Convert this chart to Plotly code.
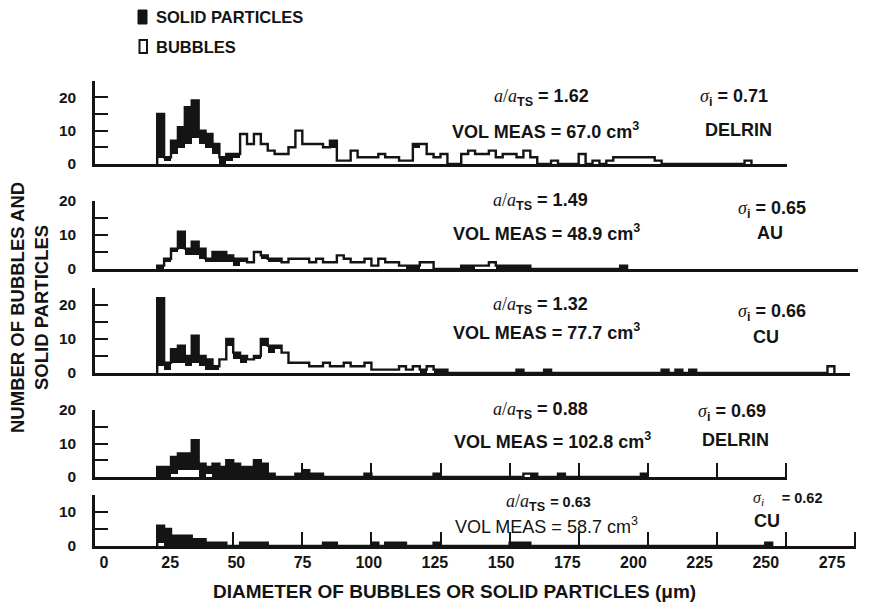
import plotly.graph_objects as go

# ---------------- data ----------------
# Histogram bins of diameter (micrometres): first bin starts at 22.5 um, bins 2.5 um wide
FIRST_BIN_UM = 22.5
BIN_WIDTH_UM = 2.5

# Panel 1: a/aTS = 1.62, DELRIN
bubbles_1 = [2, 1, 3, 5, 6, 8, 6, 5, 3, 0,
             1, 2, 9, 6, 9, 6, 4, 3, 3, 5,
             10, 6, 6, 6, 5, 5, 1, 1, 4, 2,
             2, 2, 3, 2, 2, 1, 1, 5, 6, 3,
             2, 3, 0, 0, 3, 4, 3, 3, 4, 2,
             3, 3, 2, 4, 2, 0, 0, 1, 0, 0,
             0, 3, 0, 1, 0, 1, 2, 2, 2, 2,
             2, 2, 1, 0, 0, 0, 0, 0, 0, 0,
             0, 0, 0, 0, 0, 1]
solids_1 = [13, 1, 4, 6, 11, 11, 4, 4, 3, 2,
            2, 1, 0, 0, 0, 0, 0, 0, 0, 0,
            0, 0, 0, 0, 0, 2, 0, 0, 0, 0,
            0, 0, 0, 0, 0, 0, 0, 1]

# Panel 2: a/aTS = 1.49, AU
bubbles_2 = [0, 2, 5, 6, 4, 4, 3, 2, 2, 2,
             2, 1, 2, 2, 5, 3, 2, 2, 2, 3,
             3, 3, 2, 3, 2, 2, 4, 3, 2, 2,
             3, 1, 3, 2, 2, 1, 0, 0, 2, 2,
             0, 0, 0, 0, 0, 0, 1, 1, 2]
solids_2 = [1, 1, 1, 5, 2, 4, 3, 1, 3, 3,
            2, 2, 1, 0, 0, 1, 1, 1, 0, 0,
            0, 0, 0, 0, 0, 0, 0, 0, 0, 0,
            0, 0, 0, 0, 0, 0, 1, 1, 0, 0,
            0, 0, 0, 0, 1, 1, 0, 0, 0, 1,
            1, 1, 1, 1, 0, 0, 0, 0, 0, 0,
            0, 0, 0, 0, 0, 0, 0, 1]

# Panel 3: a/aTS = 1.32, CU
bubbles_3 = [2, 1, 3, 3, 2, 3, 2, 1, 1, 4,
             8, 4, 3, 4, 4, 8, 6, 7, 6, 3,
             3, 3, 2, 2, 3, 2, 2, 3, 2, 2,
             3, 1, 1, 1, 1, 2, 1, 2, 0, 2,
             0, 0, 0, 0, 0, 0, 0, 0, 0, 0,
             0, 0, 0, 0, 0, 0, 0, 0, 0, 0,
             0, 0, 0, 0, 0, 0, 0, 0, 0, 0,
             0, 0, 0, 0, 0, 0, 0, 0, 0, 0,
             0, 0, 0, 0, 0, 0, 0, 0, 0, 0,
             0, 0, 0, 0, 0, 0, 0, 2]
solids_3 = [20, 2, 4, 5, 3, 8, 3, 3, 1, 0,
            2, 2, 2, 0, 1, 2, 2, 1, 0, 0,
            0, 0, 0, 0, 0, 0, 0, 0, 0, 0,
            0, 0, 0, 0, 0, 0, 0, 0, 1, 0,
            1, 1, 0, 0, 0, 0, 0, 0, 0, 0,
            0, 0, 1, 0, 0, 0, 1, 0, 0, 0,
            0, 0, 0, 0, 0, 0, 0, 0, 0, 0,
            0, 0, 0, 1, 0, 1, 0, 1]

# Panel 4: a/aTS = 0.88, DELRIN
bubbles_4 = [0, 0, 1, 2, 2, 2, 0, 1, 0, 0,
             0, 0, 0, 0, 0, 0, 0, 0, 0, 0,
             0, 0, 0, 0, 0, 0, 0, 0, 0, 0,
             0, 0, 0, 0, 0, 0, 0, 0, 0, 0,
             0, 0, 0, 0, 0, 0, 0, 0, 0, 0,
             0, 0, 0, 1]
solids_4 = [3, 3, 5, 5, 5, 9, 4, 2, 4, 3,
            5, 4, 3, 3, 5, 4, 1, 0, 0, 0,
            1, 2, 1, 1, 0, 0, 0, 0, 0, 0,
            1, 0, 0, 0, 0, 0, 0, 0, 0, 0,
            1, 0, 0, 0, 0, 0, 0, 0, 0, 0,
            0, 0, 0, 0, 1, 0, 0, 0, 1, 0,
            0, 0, 0, 0, 0, 0, 0, 0, 0, 0,
            1]

# Panel 5: a/aTS = 0.63, CU
bubbles_5 = [1]
solids_5 = [5, 5, 3, 3, 3, 2, 2, 1, 1, 1,
            0, 0, 1, 1, 1, 1, 0, 0, 0, 0,
            0, 0, 0, 0, 1, 1, 0, 0, 0, 0,
            0, 1, 0, 1, 1, 1, 0, 0, 0, 0,
            1, 0, 0, 0, 0, 0, 0, 0, 0, 0,
            0, 1, 1, 1, 0, 0, 0, 0, 0, 0,
            0, 0, 0, 0, 0, 0, 0, 0, 0, 0,
            0, 0, 0, 0, 0, 0, 0, 0, 0, 0,
            0, 0, 0, 0, 0, 0, 0, 0, 1]

size_ratio = ["1.62", "1.49", "1.32", "0.88", "0.63"]
vol_meas = ["67.0", "48.9", "77.7", "102.8", "58.7"]
sigma_i = ["0.71", "0.65", "0.66", "0.69", "0.62"]
material = ["DELRIN", "AU", "CU", "DELRIN", "CU"]
y_max = [25, 20, 25, 20, 15]
x_max = [250.5, 276, 273, 250.5, 275.5]
x_tick_labels = [0, 25, 50, 75, 100, 125, 150, 175, 200, 225, 250, 275]

# ---------------- layout constants ----------------
PAGE_OFF = 8                      # the page body margin around the plot div
W, H = 880 - PAGE_OFF, 612 - PAGE_OFF
INK = "#141414"
FONT = "Liberation Sans, Arial, Helvetica, sans-serif"
SERIF = "Liberation Serif, Times New Roman, serif"
X0_PX = 95.0          # window pixel of 0 um
PX_PER_UM = 2.764
# (bottom px, top px) of each panel, in window pixels
panel_px = [(164, 80.5), (269, 201), (373, 288), (477, 410), (546, 495)]
x_ticks_panel = [None, None, None, list(range(50, 251, 25)), list(range(50, 276, 25))]


def fx(xp):
    return (xp - PAGE_OFF) / W


def fy(yp):
    return 1 - (yp - PAGE_OFF) / H


bubbles = [bubbles_1, bubbles_2, bubbles_3, bubbles_4, bubbles_5]
solids = [solids_1, solids_2, solids_3, solids_4, solids_5]

fig = go.Figure()
layout = dict(width=W, height=H, margin=dict(l=0, r=0, t=0, b=0, autoexpand=False),
              plot_bgcolor="white", paper_bgcolor="white",
              showlegend=False, barmode="overlay", bargap=0,
              font=dict(family=FONT, color=INK))

for p in range(5):
    k = p + 1
    xs_name = "x" if k == 1 else f"x{k}"
    ys_name = "y" if k == 1 else f"y{k}"
    n = max(len(bubbles[p]), len(solids[p]))
    b = list(bubbles[p]) + [0] * (n - len(bubbles[p]))
    s = list(solids[p]) + [0] * (n - len(solids[p]))
    total = [bb + ss for bb, ss in zip(b, s)]
    edges = [FIRST_BIN_UM + BIN_WIDTH_UM * i for i in range(n + 1)]
    centers = [FIRST_BIN_UM + BIN_WIDTH_UM * (i + 0.5) for i in range(n)]

    # solid particles: black, stacked on top of bubbles
    fig.add_trace(go.Bar(x=centers, y=s, base=b, width=BIN_WIDTH_UM * 1.02,
                         marker=dict(color=INK, line=dict(width=0)),
                         xaxis=xs_name, yaxis=ys_name, hoverinfo="skip"))
    # outline of the total histogram (bubbles + solids)
    sx = [edges[0]] + edges[:-1] + [edges[-1]]
    sy = [0] + total + [0]
    fig.add_trace(go.Scatter(x=sx, y=sy, mode="lines", line_shape="hv",
                             line=dict(color=INK, width=2.4),
                             xaxis=xs_name, yaxis=ys_name, hoverinfo="skip"))

    bot, top = panel_px[p]
    xa = dict(domain=[fx(X0_PX), fx(X0_PX + PX_PER_UM * x_max[p])],
              range=[0, x_max[p]], anchor=ys_name, automargin=False,
              showline=True, linecolor=INK, linewidth=2.5,
              showgrid=False, zeroline=False, showticklabels=False)
    if x_ticks_panel[p]:
        xa.update(ticks="inside", tickvals=x_ticks_panel[p], ticklen=14,
                  tickwidth=2, tickcolor=INK)
    else:
        xa.update(ticks="")
    yt = list(range(0, y_max[p] + 1, 5))
    ya = dict(domain=[fy(bot), fy(top)], range=[0, y_max[p]],
              anchor=xs_name, automargin=False,
              showline=True, linecolor=INK, linewidth=2.5,
              showgrid=False, zeroline=False,
              ticks="inside", tickvals=yt,
              ticktext=[str(v) if v % 10 == 0 else "" for v in yt],
              ticklen=13, tickwidth=2, tickcolor=INK,
              tickfont=dict(size=15.5, family=FONT, color=INK, weight="bold"),
              ticklabelstandoff=13)
    layout["xaxis" if k == 1 else f"xaxis{k}"] = xa
    layout["yaxis" if k == 1 else f"yaxis{k}"] = ya

# bottom tick-label row (own axis)
fig.add_trace(go.Scatter(x=[x_tick_labels[0], x_tick_labels[-1]], y=[0, 0],
                         mode="markers", marker=dict(opacity=0),
                         xaxis="x6", yaxis="y6", hoverinfo="skip"))
layout["xaxis6"] = dict(domain=[fx(104), fx(832)], range=[0, 275], anchor="y6",
                        automargin=False,
                        showline=False, showgrid=False, zeroline=False, ticks="",
                        tickvals=x_tick_labels, ticktext=[str(v) for v in x_tick_labels],
                        tickfont=dict(size=16, family=FONT, color=INK, weight="bold"))
layout["yaxis6"] = dict(domain=[fy(551), fy(550)], visible=False, range=[0, 1])

anns = []


def add_text(text, x, y, size=18, xanchor="center", angle=0):
    anns.append(dict(text=text, x=fx(x), y=fy(y),
                     xref="paper", yref="paper", xanchor=xanchor, yanchor="middle",
                     showarrow=False, textangle=angle,
                     font=dict(size=size, family=FONT, color=INK)))


A_OVER_A = f"<span style='font-family:{SERIF};font-weight:normal'><i>a</i>/<i>a</i></span>"

ratio_pos = [(541, 97), (540, 201), (540, 305), (540, 410), (548, 502)]
vol_pos = [(545, 130), (546, 232), (546, 331), (552, 440), (546, 525)]
sig_pos = [(734, 97), (772, 209), (772, 312), (732, 412), (788, 498)]
mat_pos = [(738, 130), (770, 233), (766, 337), (735, 440), (767, 521)]

for p in range(5):
    if p == 4:
        add_text(f"{A_OVER_A}<b><sub>TS</sub> <span style='font-size:14.5px'>= {size_ratio[p]}</span></b>",
                 *ratio_pos[p], size=18)
        add_text(f"VOL MEAS = {vol_meas[p]} cm<sup>3</sup>", *vol_pos[p], size=18)
        add_text(f"<span style='font-family:{SERIF}'><i>σ<sub>i</sub></i></span>"
                 f"    <b><span style='font-size:14.5px'>= {sigma_i[p]}</span></b>",
                 *sig_pos[p], size=16)
    else:
        add_text(f"{A_OVER_A}<b><sub>TS</sub> = {size_ratio[p]}</b>", *ratio_pos[p])
        add_text(f"<b>VOL MEAS = {vol_meas[p]} cm<sup>3</sup></b>", *vol_pos[p])
        add_text(f"<span style='font-family:{SERIF}'><i>σ</i></span><b><sub>i</sub> = {sigma_i[p]}</b>",
                 *sig_pos[p])
    add_text(f"<b>{material[p]}</b>", *mat_pos[p])

# legend
add_text("<b>SOLID PARTICLES</b>", 154, 17, size=16.5, xanchor="left")
add_text("<b>BUBBLES</b>", 154, 47, size=16.5, xanchor="left")
# axis titles
add_text("<b>NUMBER OF BUBBLES AND<br>SOLID PARTICLES</b>", 29, 308, size=18.5, angle=-90)
add_text("<b>DIAMETER OF BUBBLES OR SOLID PARTICLES (μm)</b>", 455, 591, size=19)

layout["annotations"] = anns
layout["shapes"] = [
    dict(type="rect", xref="paper", yref="paper",
         x0=fx(138), x1=fx(147), y0=fy(24), y1=fy(10),
         fillcolor=INK, line=dict(color=INK, width=1)),
    dict(type="rect", xref="paper", yref="paper",
         x0=fx(139.5), x1=fx(147), y0=fy(53), y1=fy(40),
         fillcolor="white", line=dict(color=INK, width=2)),
]

fig.update_layout(**layout)
fig.write_html("out.html")
